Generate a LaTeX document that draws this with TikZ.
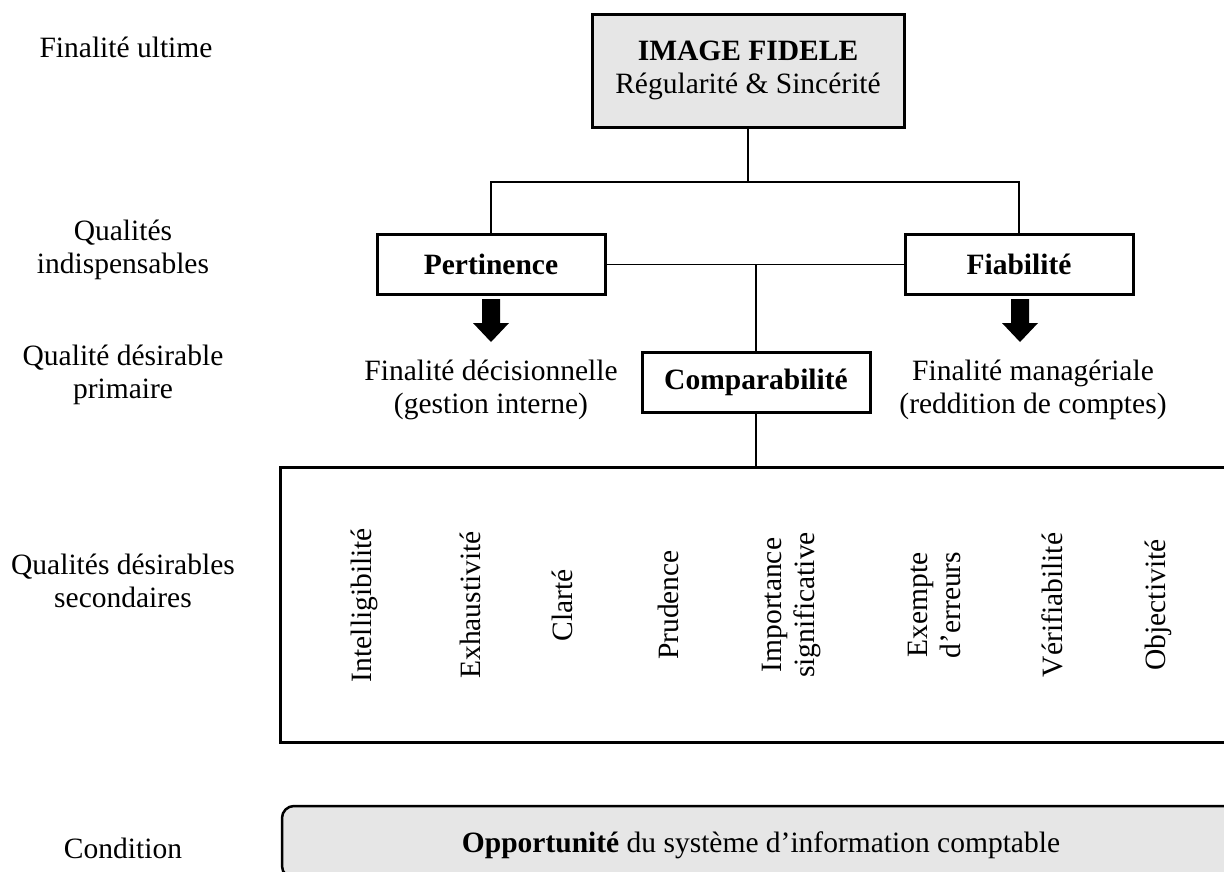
\documentclass[tikz,border=0pt]{standalone}
\usepackage{fontspec}
\setmainfont{Liberation Serif}
\definecolor{boxgray}{HTML}{E6E6E6}
\begin{document}
\begin{tikzpicture}[x=1pt,y=-1pt,
  every node/.style={font=\fontsize{29.5}{33}\selectfont, inner sep=0pt},
  qbox/.style={draw, line width=3pt, minimum width=228pt, minimum height=60pt, font=\fontsize{29.5}{33}\selectfont\bfseries},
  conn/.style={line width=1.3pt},
  lbl/.style={align=center},
  vlbl/.style={rotate=90, align=center},
  blockarrow/.style={fill=black}
]
\useasboundingbox (0,0) rectangle (1224,871);
\clip (0,0) rectangle (1224,871);

% left labels
\node[lbl, anchor=base] (l1) at (126,57) {Finalité ultime};
\node[lbl] (l2) at (123,250) {Qualités\\indispensables};
\node[lbl] (l3) at (123,375) {Qualité désirable\\primaire};
\node[lbl] (l4) at (123,581) {Qualités désirables\\secondaires};
\node[lbl, anchor=base] (l5) at (123,858) {Condition};

% top box
\node[draw, line width=3pt, fill=boxgray, minimum width=312pt, minimum height=113pt, align=center] (top) at (748,70.5)
  {\textbf{IMAGE FIDELE}\\Régularité \& Sincérité};

% level 2
\node[qbox] (pert) at (491,264.5) {Pertinence};
\node[qbox] (fiab) at (1019,264.5) {Fiabilité};
\node[qbox] (comp) at (756,382.5) {Comparabilité};

% connectors
\coordinate (j) at (748,182);
\draw[conn] (top.south) -- (j);
\draw[conn] (j) -| (pert.north);
\draw[conn] (j) -| (fiab.north);
\draw[conn] (pert.east) -- (fiab.west);
\draw[conn] (comp.north) -- (comp.north |- pert.east);

% block arrows
\coordinate (a1) at (491,299);
\coordinate (a2) at (1020,299);
\fill[blockarrow] (a1) ++(-9,0) -- ++(18,0) -- ++(0,24) -- ++(9,0) -- ++(-18,19) -- ++(-18,-19) -- ++(9,0) -- cycle;
\fill[blockarrow] (a2) ++(-9,0) -- ++(18,0) -- ++(0,24) -- ++(9,0) -- ++(-18,19) -- ++(-18,-19) -- ++(9,0) -- cycle;

\node[lbl] (fd) at (491,390) {Finalité décisionnelle\\(gestion interne)};
\node[lbl] (fm) at (1033,390) {Finalité managériale\\(reddition de comptes)};

% big box
\node[draw, line width=3pt, minimum width=960pt, minimum height=275pt] (big) at (760,604.5) {};
\draw[conn] (comp.south) -- (comp.south |- big.north);

\node[vlbl] (q1) at (364,605) {Intelligibilité};
\node[vlbl] (q2) at (470,605) {Exhaustivité};
\node[vlbl] (q3) at (562,605) {Clarté};
\node[vlbl] (q4) at (668,605) {Prudence};
\node[vlbl] (q5) at (792,605) {Importance\\significative};
\node[vlbl] (q6) at (934,605) {Exempte\\d’erreurs};
\node[vlbl] (q7) at (1052,605) {Vérifiabilité};
\node[vlbl] (q8) at (1158,605) {Objectivité};

% bottom condition box
\node[draw, line width=2.5pt, rounded corners=12pt, fill=boxgray, minimum width=958pt, minimum height=72pt, text height=20pt, text depth=0pt] (opp) at (761,842)
  {\textbf{Opportunité} du système d’information comptable};
\end{tikzpicture}
\end{document}
